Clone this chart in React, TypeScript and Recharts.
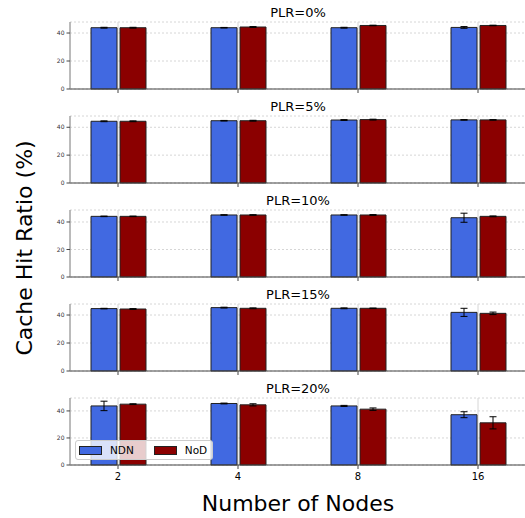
import { BarChart, Bar, XAxis, YAxis, CartesianGrid, ErrorBar } from "recharts";

const nodes = ["2", "4", "8", "16"];
const plrLabels = ["PLR=0%", "PLR=5%", "PLR=10%", "PLR=15%", "PLR=20%"];
const seriesNames = ["NDN", "NoD"];
const yTicks = [0, 20, 40];

// one row per PLR panel, one value per node count
const ndnMean = [
  [43.8, 43.8, 43.8, 44.0],
  [44.3, 44.7, 45.2, 45.3],
  [44.1, 45.1, 45.1, 43.1],
  [44.6, 45.3, 44.8, 41.9],
  [43.7, 45.5, 43.7, 37.2],
];
const ndnErr = [
  [0.3, 0.2, 0.3, 0.6],
  [0.3, 0.2, 0.3, 0.2],
  [0.2, 0.2, 0.2, 3.3],
  [0.2, 0.3, 0.3, 2.9],
  [3.5, 0.3, 0.4, 2.2],
];
const nodMean = [
  [43.8, 44.3, 45.4, 45.4],
  [44.3, 44.7, 45.5, 45.3],
  [44.1, 45.1, 45.1, 44.1],
  [44.3, 44.8, 44.8, 41.2],
  [45.0, 44.5, 41.3, 31.2],
];
const nodErr = [
  [0.3, 0.3, 0.2, 0.2],
  [0.3, 0.3, 0.3, 0.2],
  [0.2, 0.2, 0.3, 0.3],
  [0.3, 0.3, 0.2, 0.9],
  [0.3, 0.8, 0.9, 4.5],
];

const COLORS = {
  ndn: "#4169E1",
  nod: "#8B0000",
  edge: "#222222",
  grid: "#d6d6d6",
  spine: "#8a8a8a",
  spineDark: "#444444",
  text: "#000000",
  tick: "#333333",
};

const FONT = "'DejaVu Sans', sans-serif";
const PANEL_STEP = 94;

function Panel({ p, last }: { p: number; last: boolean }) {
  const data = nodes.map((_, i) => ({
    idx: i,
    ndn: ndnMean[p][i],
    ndnErr: ndnErr[p][i],
    nod: nodMean[p][i],
    nodErr: nodErr[p][i],
  }));
  // matplotlib-style autoscale: 5% headroom over the tallest error bar
  const yMax =
    Math.max(...data.flatMap((d) => [d.ndn + d.ndnErr, d.nod + d.nodErr])) * 1.05;

  return (
    <BarChart
      width={526}
      height={last ? 110 : 94}
      data={data}
      margin={{ top: 22, right: 0, bottom: 0, left: 0 }}
      barSize={26}
      barGap={3}
    >
      <CartesianGrid horizontal={false} stroke={COLORS.grid} />
      <CartesianGrid vertical={false} stroke={COLORS.grid} strokeDasharray="2 2" />
      <XAxis
        dataKey="idx"
        type="number"
        domain={[-0.4, 3.4]}
        ticks={[0, 1, 2, 3]}
        height={last ? 21 : 5}
        tickFormatter={(v) => (last ? nodes[v] : "")}
        tickSize={4}
        tickMargin={4}
        interval={0}
        axisLine={{ stroke: COLORS.spineDark }}
        tickLine={{ stroke: COLORS.spineDark }}
        tick={{ fontSize: 10, fill: COLORS.text, fontFamily: FONT }}
      />
      <XAxis
        xAxisId="top"
        orientation="top"
        type="number"
        domain={[-0.4, 3.4]}
        height={0}
        tick={false}
        tickLine={false}
        axisLine={{ stroke: COLORS.spine }}
      />
      <YAxis
        type="number"
        domain={[0, yMax]}
        ticks={yTicks}
        width={70}
        tickSize={3.5}
        tickMargin={2}
        axisLine={{ stroke: COLORS.spine }}
        tickLine={{ stroke: COLORS.spineDark }}
        tick={{ fontSize: 6, fill: COLORS.tick, fontFamily: FONT }}
      />
      <Bar dataKey="ndn" name={seriesNames[0]} fill={COLORS.ndn} stroke={COLORS.edge} strokeWidth={1} isAnimationActive={false}>
        <ErrorBar dataKey="ndnErr" width={3.5} stroke="#000" strokeWidth={1} direction="y" />
      </Bar>
      <Bar dataKey="nod" name={seriesNames[1]} fill={COLORS.nod} stroke={COLORS.edge} strokeWidth={1} isAnimationActive={false}>
        <ErrorBar dataKey="nodErr" width={3.5} stroke="#000" strokeWidth={1} direction="y" />
      </Bar>
    </BarChart>
  );
}

function LegendBox() {
  const fills = [COLORS.ndn, COLORS.nod];
  return (
    <div
      style={{
        position: "absolute",
        left: 75,
        top: 440,
        width: 136,
        height: 18,
        border: "1px solid #cccccc",
        borderRadius: 3,
        background: "rgba(255,255,255,0.8)",
        display: "flex",
        alignItems: "center",
        fontFamily: FONT,
        fontSize: 10.5,
        color: COLORS.text,
      }}
    >
      {seriesNames.map((name, i) => (
        <div key={name} style={{ display: "flex", alignItems: "center", marginLeft: i === 0 ? 3 : 20 }}>
          <span
            style={{
              display: "inline-block",
              width: 21,
              height: 7,
              background: fills[i],
              border: `1px solid ${COLORS.edge}`,
              marginRight: 8,
            }}
          />
          <span>{name}</span>
        </div>
      ))}
    </div>
  );
}

export default function App() {
  return (
    <div
      style={{
        position: "absolute",
        left: 0,
        top: 0,
        width: 525,
        height: 518,
        overflow: "hidden",
        background: "#fff",
      }}
    >
      {plrLabels.map((_, p) => (
        <div key={p} style={{ position: "absolute", left: 0, top: PANEL_STEP * p }}>
          <Panel p={p} last={p === plrLabels.length - 1} />
        </div>
      ))}
      <LegendBox />
      <svg
        width={525}
        height={518}
        style={{ position: "absolute", left: 0, top: 0, pointerEvents: "none" }}
        fontFamily={FONT}
      >
        {plrLabels.map((t, p) => (
          <text key={t} x={298} y={17 + PANEL_STEP * p} textAnchor="middle" fontSize={13} fill={COLORS.text}>
            {t}
          </text>
        ))}
        <text x={298} y={511} textAnchor="middle" fontSize={22} fill={COLORS.text}>
          Number of Nodes
        </text>
        <text
          x={32}
          y={248}
          textAnchor="middle"
          fontSize={22}
          fill={COLORS.text}
          transform="rotate(-90 32 248)"
        >
          Cache Hit Ratio (%)
        </text>
      </svg>
    </div>
  );
}
